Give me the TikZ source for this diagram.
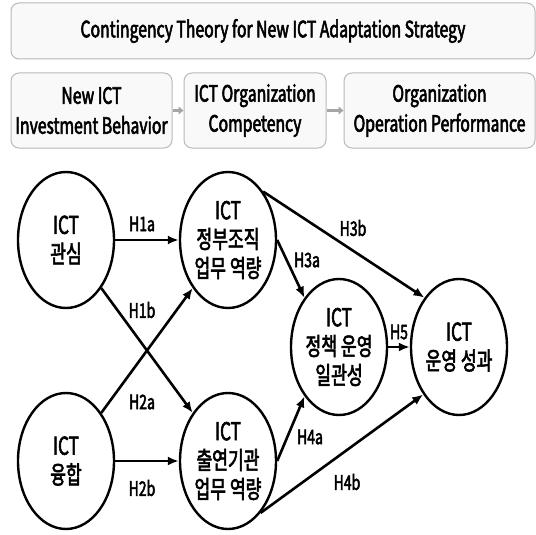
\documentclass[tikz,border=0pt]{standalone}
\usepackage{fontspec}
\setmainfont{Noto Sans CJK KR}[FakeStretch=0.7,FakeBold=2.4]
\usetikzlibrary{shapes.geometric,arrows.meta}

\begin{document}
\begin{tikzpicture}[x=1pt,y=-1pt,
	box/.style={draw=gray!55,fill=gray!5,rounded corners=8pt,line width=1pt,
		inner sep=0pt,minimum height=75pt,align=center,font=\fontsize{22.5}{30}\selectfont},
	var/.style={draw,ellipse,line width=2.4pt,minimum width=96pt,minimum height=136pt,
		inner sep=0pt,align=center,font=\fontsize{24.5}{29}\selectfont},
	effect/.style={-{Latex[length=11pt,width=9pt]},line width=2.6pt},
	hyp/.style={font=\fontsize{20}{22}\selectfont},
	link/.style={-{Triangle[length=5pt,width=8pt]},draw=gray!70,line width=3pt}]
	\useasboundingbox (0,0) rectangle (536,535);

	% header and the three stages
	\node[box,minimum width=524pt,minimum height=56pt] (theory) at (273,31)
		{Contingency Theory for New ICT Adaptation Strategy};
	\node[box,minimum width=161pt] (invest) at (91.5,110.5) {New ICT\\Investment Behavior};
	\node[box,minimum width=142pt] (compet) at (255,110.5) {ICT Organization\\Competency};
	\node[box,minimum width=191pt] (perform) at (439.5,110.5) {Organization\\Operation Performance};
	\draw[link] (invest) -- (compet);
	\draw[link] (compet) -- (perform);

	% research model
	\node[var] (gwansim) at (66,240) {ICT\\관심};
	\node[var] (yunghap) at (66,461) {ICT\\융합};
	\node[var] (jeongbu) at (228,240) {ICT\\정부조직\\업무 역량};
	\node[var] (chulyeon) at (228,461) {ICT\\출연기관\\업무 역량};
	\node[var] (ilgwan) at (339,347) {ICT\\정책 운영\\일관성};
	\node[var] (seonggwa) at (459,347) {ICT\\운영 성과};

	\draw[effect] (gwansim) -- (jeongbu);
	\draw[effect] (gwansim) -- (chulyeon);
	\draw[effect] (yunghap) -- (jeongbu);
	\draw[effect] (yunghap) -- (chulyeon);
	\draw[effect] (jeongbu.east) -- (ilgwan.125);
	\draw[effect] (jeongbu.54) -- (seonggwa.125);
	\draw[effect] (chulyeon.east) -- (ilgwan.235);
	\draw[effect] (chulyeon.-58) -- (seonggwa.233);
	\draw[effect] (ilgwan) -- (seonggwa);

	\node[hyp] (h1a) at (142,224) {H1a};
	\node[hyp] (h1b) at (142,310) {H1b};
	\node[hyp] (h2a) at (142,402) {H2a};
	\node[hyp] (h2b) at (142,488) {H2b};
	\node[hyp] (h3a) at (307,260) {H3a};
	\node[hyp] (h3b) at (353,228) {H3b};
	\node[hyp] (h4a) at (310,437) {H4a};
	\node[hyp] (h4b) at (347,482) {H4b};
	\node[hyp] (h5) at (399,332) {H5};
\end{tikzpicture}
\end{document}
